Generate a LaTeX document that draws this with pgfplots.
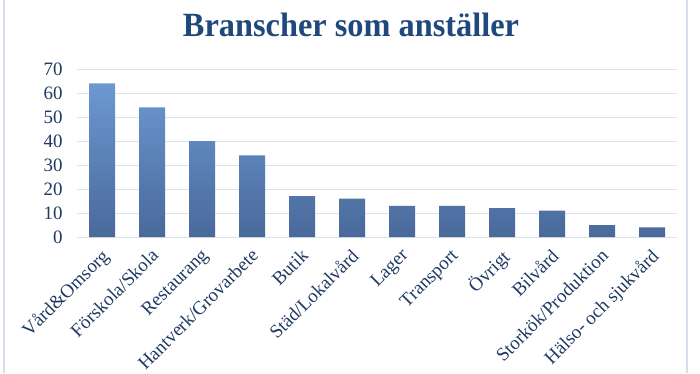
\documentclass[border=0pt]{standalone}
\usepackage{fontspec}
\setmainfont{Liberation Serif}
\usepackage{pgfplots}
\pgfplotsset{compat=1.18}
\definecolor{titleblue}{HTML}{1F497D}
\definecolor{labelblue}{HTML}{1F3A63}
\definecolor{gridc}{HTML}{D9E1EC}
\definecolor{bartop}{HTML}{6C98D2}
\definecolor{barbot}{HTML}{49699A}
\definecolor{framec}{HTML}{D5DFEB}
\begin{document}
\begin{tikzpicture}[x=1bp,y=1bp]
\useasboundingbox (0,0) rectangle (700,373);
\fill[white] (0,0) rectangle (700,373);
\draw[framec, line width=2bp] (3.5,0) -- (3.5,373);
\draw[framec, line width=2bp] (687,0) -- (687,373);
\node[anchor=base, text=titleblue, inner sep=0pt, font=\fontsize{34}{40}\selectfont\bfseries] at (351,337) {\scalebox{0.955}[1]{Branscher som anställer}};
\begin{axis}[
  at={(77bp,136bp)}, anchor=south west,
  scale only axis, width=600bp, height=168bp,
  xmin=-0.5, xmax=11.5, ymin=0, ymax=70,
  ytick={0,10,...,70},
  xtick={0,...,11},
  xticklabels={Vård\&Omsorg,Förskola/Skola,Restaurang,Hantverk/Grovarbete,Butik,Städ/Lokalvård,Lager,Transport,Övrigt,Bilvård,Storkök/Produktion,Hälso- och sjukvård},
  axis line style={draw=none},
  major tick length=0pt,
  ymajorgrids,
  grid style={gridc, line width=1bp},
  tick label style={text=labelblue, font=\fontsize{19}{22}\selectfont},
  /pgf/number format/assume math mode=true,
  yticklabel style={anchor=east, xshift=-11bp},
  xticklabel style={xshift=-2bp, yshift=-9bp, rotate=45, anchor=north east, inner sep=1bp},
  ybar, bar width=26bp,
]
\addplot[draw=none, top color=bartop, bottom color=barbot] coordinates {
(0,64) (1,54) (2,40) (3,34) (4,17) (5,16) (6,13) (7,13) (8,12) (9,11) (10,5) (11,4)
};
\end{axis}
\end{tikzpicture}
\end{document}
